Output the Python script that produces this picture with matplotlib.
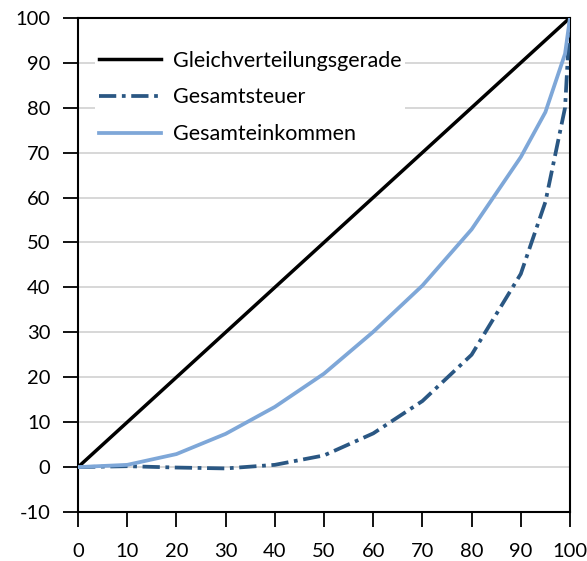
import matplotlib.pyplot as plt

# data (Lorenzkurven)
anteil = [0, 10, 20, 30, 40, 50, 60, 70, 80, 90, 95, 99, 100]
gleich = [0, 100]
steuer = [0, 0.2, -0.1, -0.3, 0.5, 2.6, 7.5, 14.7, 25.0, 43.0, 59.0, 80.0, 100]
einkommen = [0, 0.5, 2.9, 7.4, 13.4, 20.8, 30.1, 40.4, 52.9, 69.0, 79.0, 92.0, 100]

plt.rcParams['font.family'] = ['Lato', 'DejaVu Sans']
plt.rcParams['axes.unicode_minus'] = False

fig = plt.figure(figsize=(5.87, 5.61), dpi=100)
ax = fig.add_axes([0.133, 0.0873, 0.838, 0.881])

ax.plot(gleich, gleich, color="black", linewidth=2.5, label="Gleichverteilungsgerade", zorder=3)
ax.plot(anteil, steuer, color="#2a5783", linewidth=2.7, linestyle=(0, (4.6, 1.5, 1.0, 1.5)),
        label="Gesamtsteuer", zorder=3)
ax.plot(anteil, einkommen, color="#7ea7d8", linewidth=2.7, label="Gesamteinkommen", zorder=3)

# achsen
ax.set_xlim(0, 100)
ax.set_ylim(-10, 100)
ax.set_xticks(range(0, 101, 10))
ax.set_yticks(range(-10, 101, 10))
ax.tick_params(axis="both", labelsize=14.5, length=11, width=1.3, direction="out", pad=9)
ax.tick_params(axis="x", pad=11)
ax.grid(True, axis="y", color="#d4d4d4", linewidth=1.3, zorder=0)
for s in ax.spines.values():
  s.set_linewidth(1.5)
  s.set_color("black")

leg = ax.legend(loc="upper left", bbox_to_anchor=(0.035, 0.94), fontsize=15.5,
                frameon=True, facecolor="white", edgecolor="none", framealpha=1,
                handlelength=2.9, handletextpad=0.55, labelspacing=0.78, borderpad=0.15,
                borderaxespad=0)
leg.get_frame().set_boxstyle("square", pad=0)

fig.savefig("out.png", dpi=100)
